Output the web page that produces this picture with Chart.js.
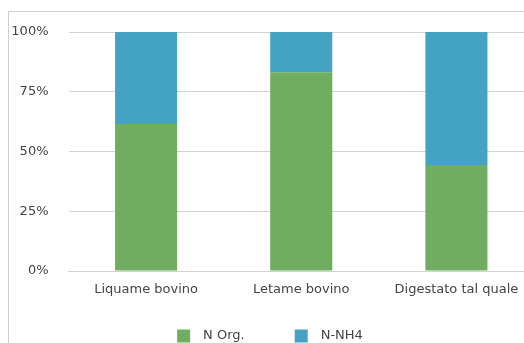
<!DOCTYPE html>
<html>
<head>
<meta charset="utf-8">
<script src="https://cdn.jsdelivr.net/npm/chart.js@4/dist/chart.umd.min.js"></script>
<style>
  html, body { margin: 0; padding: 0; background: #fff; overflow: hidden; width: 524px; height: 343px; }
  #frame { position: absolute; left: 8px; top: 11px; width: 600px; height: 400px; border: 1px solid #cfcfcf; box-sizing: border-box; }
  #c { position: absolute; left: 0; top: 0; }
</style>
</head>
<body>
<div id="frame"></div>
<canvas id="c" width="548" height="343"></canvas>
<script>
// Nitrogen split per material, as share of total N (%)
const categories = ['Liquame bovino', 'Letame bovino', 'Digestato tal quale'];
const nOrg = [61.5, 83.2, 44.4];
const nNH4 = [38.5, 16.8, 55.6];
const yTicks = [0, 25, 50, 75, 100];

const FONT = { family: '"DejaVu Sans", sans-serif', size: 13 };
const TEXT = '#444444';
const GRID = '#d2d2d2';

// Single-row legend with wider spacing than the built-in one allows
const rowLegend = {
  id: 'rowLegend',
  afterDraw(chart, args, opts) {
    const ctx = chart.ctx;
    ctx.save();
    ctx.font = `${FONT.size}px ${FONT.family}`;
    ctx.textBaseline = 'middle';
    ctx.textAlign = 'left';
    const items = chart.data.datasets.map(ds => ({
      label: ds.label, color: ds.backgroundColor, w: ctx.measureText(ds.label).width
    }));
    const total = items.reduce((s, it) => s + opts.box + opts.gap + it.w, 0) + opts.spacing * (items.length - 1);
    let x = opts.centerX - total / 2;
    items.forEach(it => {
      ctx.fillStyle = it.color;
      ctx.fillRect(x, opts.y - opts.box / 2, opts.box, opts.box);
      x += opts.box + opts.gap;
      ctx.fillStyle = TEXT;
      ctx.fillText(it.label, x, opts.y);
      x += it.w + opts.spacing;
    });
    ctx.restore();
  }
};

new Chart(document.getElementById('c'), {
  type: 'bar',
  data: {
    labels: categories,
    datasets: [
      { label: 'N Org.', data: nOrg, backgroundColor: '#70ad60', borderWidth: 0,
        categoryPercentage: 1, barPercentage: 0.4 },
      { label: 'N-NH4', data: nNH4, backgroundColor: '#44a3c3', borderWidth: 0,
        categoryPercentage: 1, barPercentage: 0.4 }
    ]
  },
  plugins: [rowLegend],
  options: {
    responsive: false,
    animation: false,
    devicePixelRatio: 1,
    layout: { padding: { left: 0, top: 32, right: 14, bottom: 42 } },
    plugins: {
      tooltip: { enabled: false },
      legend: { display: false },
      rowLegend: { centerX: 270, y: 336, box: 13, gap: 13, spacing: 50 }
    },
    scales: {
      x: {
        stacked: true,
        grid: { display: false, drawTicks: false },
        border: { display: true, color: GRID, width: 1 },
        ticks: { font: FONT, color: TEXT, padding: 11, maxRotation: 0, autoSkip: false },
        afterFit: (axis) => { axis.height = 30; }
      },
      y: {
        stacked: true,
        min: 0, max: 100,
        afterBuildTicks: (axis) => { axis.ticks = yTicks.map(v => ({ value: v })); },
        grid: { color: GRID, lineWidth: 1, drawTicks: false },
        border: { display: false },
        ticks: { font: FONT, color: TEXT, padding: 20, callback: (v) => v + '%' },
        afterFit: (axis) => { axis.width = 68.5; }
      }
    }
  }
});
</script>
</body>
</html>
